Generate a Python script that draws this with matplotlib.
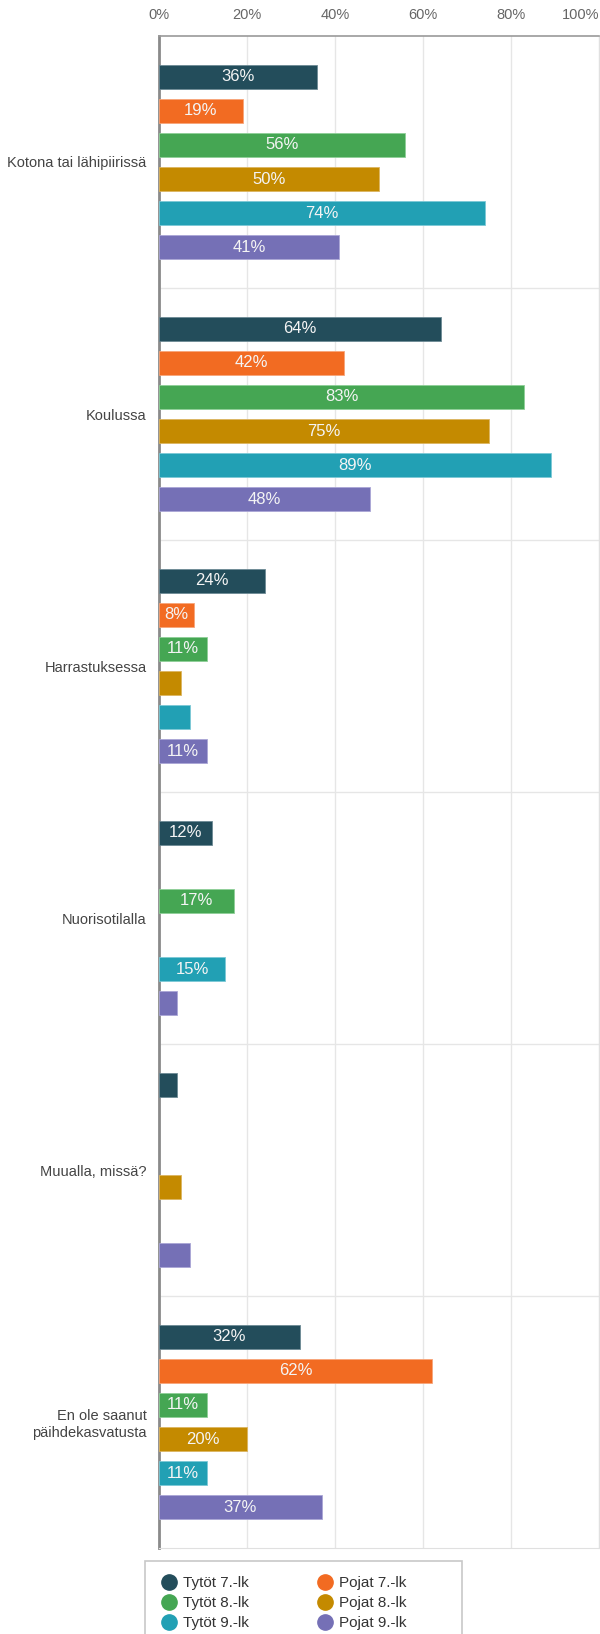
import numpy as np
import matplotlib
matplotlib.use("Agg")
import matplotlib.pyplot as plt
from matplotlib.lines import Line2D
from matplotlib.patches import Rectangle

plt.rcParams['font.family'] = ['Liberation Sans', 'DejaVu Sans']

# data
categories = ["Kotona tai lähipiirissä", "Koulussa", "Harrastuksessa",
              "Nuorisotilalla", "Muualla, missä?", "En ole saanut\npäihdekasvatusta"]
series = ["Tytöt 7.-lk", "Pojat 7.-lk", "Tytöt 8.-lk", "Pojat 8.-lk", "Tytöt 9.-lk", "Pojat 9.-lk"]
tytot_7 = [36, 64, 24, 12, 4, 32]
pojat_7 = [19, 42, 8, 0, 0, 62]
tytot_8 = [56, 83, 11, 17, 0, 11]
pojat_8 = [50, 75, 5, 0, 5, 20]
tytot_9 = [74, 89, 7, 15, 0, 11]
pojat_9 = [41, 48, 11, 4, 7, 37]
x_ticks = [0, 20, 40, 60, 80, 100]

colors = ["#234d5b", "#f26b22", "#45a653", "#c48a00", "#22a0b4", "#7570b6"]
edges = ["#6d8a95", "#f7a57a", "#8fcf98", "#dcb560", "#7cc9d6", "#aaa6d6"]

values = [tytot_7, pojat_7, tytot_8, pojat_8, tytot_9, pojat_9]

fig = plt.figure(figsize=(6, 16.34), dpi=100)
ax = fig.add_axes([159/600, 1-1548/1634, 440/600, 1512/1634])

y = np.arange(len(categories))
pitch = 0.135
h = 0.095

for j, vals in enumerate(values):
    pos = y + (j - 2.5) * pitch
    lws = [0.6 if v > 0 else 0 for v in vals]
    ax.barh(pos, vals, height=h, color=colors[j], edgecolor=edges[j], linewidth=lws, zorder=3)
    for p, v in zip(pos, vals):
        if v >= 8:
            ax.text(v/2, p, f"{v}%", ha='center', va='center', color='#f4f4f4',
                    fontsize=12, zorder=4)

ax.set_xlim(0, 100)
ax.set_ylim(len(categories) - 0.5, -0.5)
ax.set_xticks(x_ticks)
ax.set_xticklabels([f"{t}%" for t in x_ticks])
ax.xaxis.tick_top()
ax.tick_params(axis='x', length=0, pad=10, labelsize=10.5, labelcolor='#666666')
ax.get_xticklabels()[-1].set_horizontalalignment('right')
ax.set_yticks(y)
ax.set_yticklabels(categories)
ax.tick_params(axis='y', length=0, pad=9, labelsize=10.5, labelcolor='#444444')

ax.grid(axis='x', color='#e6e6e6', lw=1, zorder=0)
for b in np.arange(0.5, len(categories) - 0.5, 1.0):
    ax.axhline(b, color='#e6e6e6', lw=1, zorder=0)

ax.spines['left'].set_color('#8a8a8a')
ax.spines['left'].set_linewidth(2)
ax.spines['top'].set_color('#9a9a9a')
ax.spines['top'].set_linewidth(1.2)
ax.spines['bottom'].set_color('#e0e0e0')
ax.spines['right'].set_color('#e0e0e0')

# legend box, runs off the bottom like the original
fig.add_artist(Rectangle((145/600, 1-1640/1634), 317/600, 79/1634, transform=fig.transFigure,
                         facecolor='white', edgecolor='#c8c8c8', lw=1.2, clip_on=False))
handles = [Line2D([], [], marker='o', ls='', markersize=11, color=colors[k],
                  label=series[k]) for k in [0, 2, 4, 1, 3, 5]]
leg = fig.legend(handles=handles, ncol=2, loc='upper left',
                 bbox_to_anchor=(145/600, 1-1561/1634), frameon=False,
                 fontsize=11, handletextpad=0.3, labelspacing=0.4, columnspacing=4.4,
                 borderpad=0.5, handlelength=1.2)
for t in leg.get_texts():
    t.set_color('#333333')

fig.savefig("out.png", dpi=100)
